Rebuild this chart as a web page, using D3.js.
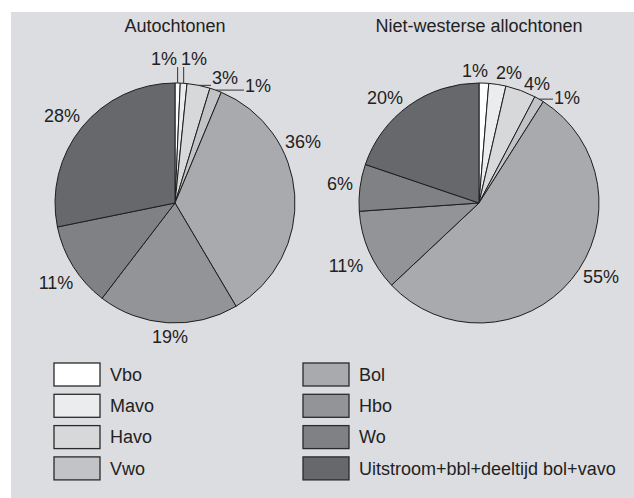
<!DOCTYPE html>
<html lang="nl">
<head>
<meta charset="utf-8">
<title>Autochtonen en niet-westerse allochtonen</title>
<script src="https://d3js.org/d3.v7.min.js"></script>
<style>
  body { margin: 0; background: #fff; }
  svg text { font-family: 'Liberation Sans', Arial, Helvetica, sans-serif; fill: #222; }
</style>
</head>
<body>
<div id="chart"></div>
<script>
// categories and the shares (in %)
var categories = ["Vbo", "Mavo", "Havo", "Vwo", "Bol", "Hbo", "Wo", "Uitstroom+bbl+deeltijd bol+vavo"];
var titles = ["Autochtonen", "Niet-westerse allochtonen"];
var autochtonen = [0.7, 0.9, 3.1, 1.6, 35.2, 18.9, 11.4, 28.2];
var allochtonen = [1.3, 2.3, 4.1, 1.3, 54.0, 10.9, 6.3, 19.8];
// the labels as printed (rounded)
var labelsAutochtonen = ["1%", "1%", "3%", "1%", "36%", "19%", "11%", "28%"];
var labelsAllochtonen = ["1%", "2%", "4%", "1%", "55%", "11%", "6%", "20%"];

var colours = ["#ffffff", "#ebecee", "#d7d8da", "#c2c3c6", "#a9aaad", "#939497", "#808184", "#67686b"];

// label placement relative to pie centre: [dx, baseline dy, leader]
var labelLayout = [
  [[-11, -138, "v"], [19, -138, "v"], [50, -119, "h"], [83, -111, "h"], [128, -55, ""], [-5, 140, ""], [-119, 86, ""], [-113, -81, ""]],
  [[-4, -126, ""], [30, -124, ""], [58, -113, ""], [88, -99, "h"], [122, 80, ""], [-133, 69, ""], [-139, -13, ""], [-94, -99, ""]]
];

var W = 634, H = 498, R = 120;
var centres = [175, 479], cy = 203;

var svg = d3.select("#chart").append("svg")
  .attr("width", W).attr("height", H);

svg.append("rect")
  .attr("x", 11).attr("y", 12)
  .attr("width", W - 11).attr("height", H - 12)
  .attr("fill", "#dcdde0");

var pie = d3.pie().sort(null).value(function(d) { return d; });
var arc = d3.arc().innerRadius(0).outerRadius(R);

var sets = [
  {values: autochtonen, labels: labelsAutochtonen},
  {values: allochtonen, labels: labelsAllochtonen}
];

sets.forEach(function(set, k) {
  var g = svg.append("g")
    .attr("transform", "translate(" + centres[k] + "," + cy + ")");

  g.append("text")
    .attr("x", 0).attr("y", -171)
    .attr("text-anchor", "middle")
    .style("font-size", "18px")
    .text(titles[k]);

  var arcs = pie(set.values);

  g.selectAll("path.slice")
    .data(arcs)
    .enter()
    .append("path")
      .attr("class", "slice")
      .attr("d", arc)
      .attr("fill", function(d, i) { return colours[i]; })
      .attr("stroke", "#1e1e1e")
      .attr("stroke-width", 1)
      .attr("stroke-linejoin", "round");

  arcs.forEach(function(a, i) {
    var lay = labelLayout[k][i];
    var t = g.append("text")
      .attr("x", lay[0]).attr("y", lay[1])
      .attr("text-anchor", "middle")
      .style("font-size", "18px")
      .text(set.labels[i]);

    if (lay[2]) {
      var mid = (a.startAngle + a.endAngle) / 2;
      var ex = Math.sin(mid) * R, ey = -Math.cos(mid) * R;
      var w = t.node().getComputedTextLength();
      var x2, y2;
      if (lay[2] == "v") { x2 = ex; y2 = lay[1] + 2; }
      else { x2 = lay[0] - w / 2 - 1; y2 = ey; }
      g.append("line")
        .attr("x1", ex).attr("y1", ey)
        .attr("x2", x2).attr("y2", y2)
        .attr("stroke", "#333")
        .attr("stroke-width", 1);
    }
  });
});

// legend, two columns of four
var legend = svg.append("g");
var item = legend.selectAll("g.item")
  .data(categories)
  .enter()
  .append("g")
    .attr("class", "item")
    .attr("transform", function(d, i) {
      return "translate(" + (i < 4 ? 54 : 303) + "," + (363 + (i % 4) * 31.3) + ")";
    });

item.append("rect")
  .attr("width", 46).attr("height", 23)
  .attr("fill", function(d, i) { return colours[i]; })
  .attr("stroke", "#2a2a2a")
  .attr("stroke-width", 1.3);

item.append("text")
  .attr("x", 56).attr("y", 11.5)
  .attr("dy", "0.35em")
  .style("font-size", "18px")
  .text(function(d) { return d; });
</script>
</body>
</html>
